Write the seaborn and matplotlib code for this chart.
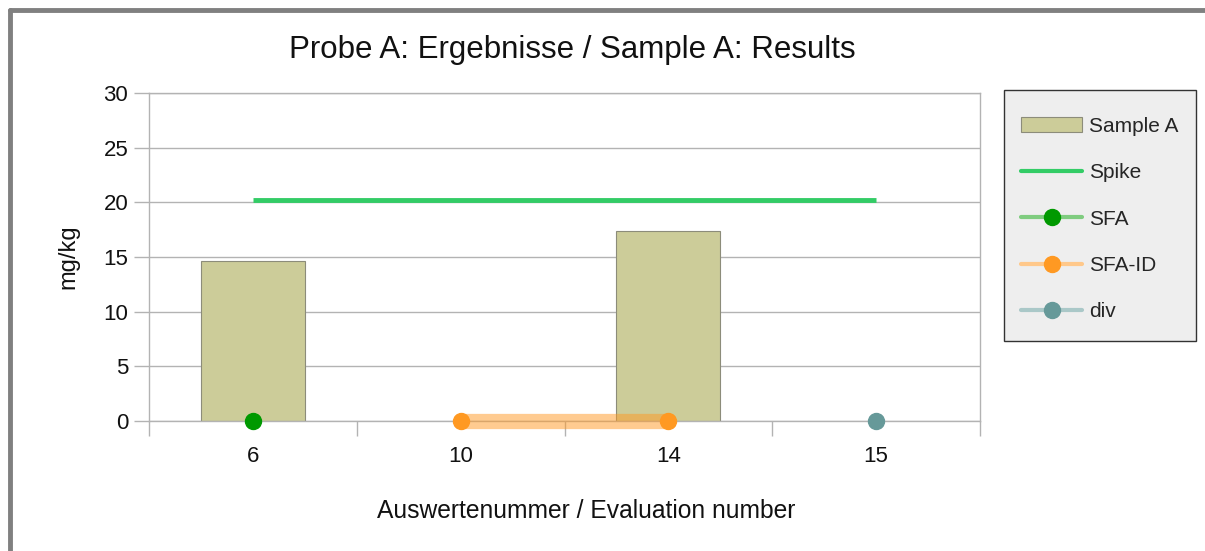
import matplotlib
matplotlib.use("Agg")
import matplotlib.pyplot as plt
from matplotlib.lines import Line2D
from matplotlib.patches import Patch, Rectangle
import seaborn as sns
import pandas as pd
import numpy as np

categories = ["6", "10", "14", "15"]
sample_a = [14.6, 0.0, 17.4, 0.0]
spike = [20.2, 20.2, 20.2, 20.2]
sfa = [0.0, None, None, None]
sfa_id = [None, 0.0, 0.0, None]
div = [None, None, None, 0.0]
yticks = [0, 5, 10, 15, 20, 25, 30]

sns.set_theme(style="white")
plt.rcParams['font.family'] = ['Liberation Sans', 'DejaVu Sans']

W, H = 1205, 551
fig = plt.figure(figsize=(12.05, 5.51), dpi=100)
ax = fig.add_axes([149/W, 130/H, (980-149)/W, (421-93)/H])

df = pd.DataFrame({"cat": categories, "val": sample_a})
sns.barplot(data=df, x="cat", y="val", order=categories, color="#cccc99",
            width=0.5, edgecolor="#8c8c7a", linewidth=0.8, saturation=1, ax=ax, zorder=2)
for p in ax.patches:
    if p.get_height() == 0:
        p.set_visible(False)

pos = np.arange(len(categories))
ax.plot(pos, spike, color="#33cc66", lw=3.5, zorder=3, solid_capstyle="butt")

def series(vals, line_color, marker_color, lw):
    xs = [p for p, v in zip(pos, vals) if v is not None]
    ys = [v for v in vals if v is not None]
    if len(xs) > 1:
        ax.plot(xs, ys, color=line_color, lw=lw, zorder=3, alpha=0.5,
                solid_capstyle="butt", clip_on=False)
    ax.plot(xs, ys, ls="none", marker="o", ms=11.5, color=marker_color, zorder=4, clip_on=False)

series(sfa, "#009900", "#009900", 11)
series(sfa_id, "#ff9922", "#ff9922", 11)
series(div, "#669999", "#669999", 11)

ax.set_xlim(-0.5, len(categories) - 0.5)
ax.set_ylim(0, 30)
ax.set_yticks(yticks)
ax.set_yticklabels([str(t) for t in yticks], fontsize=16, color="#111111")
ax.set_xticks(pos)
ax.set_xticklabels(categories, fontsize=16, color="#111111")
ax.set_xticks(np.arange(len(categories) + 1) - 0.5, minor=True)
ax.tick_params(axis="x", which="major", length=0, pad=18, bottom=True)
ax.tick_params(axis="x", which="minor", length=11, color="#b3b3b3", width=1, bottom=True)
ax.tick_params(axis="y", which="major", length=11, color="#b3b3b3", width=1, pad=4, left=True)
ax.yaxis.grid(True, color="#b3b3b3", lw=1)
ax.set_axisbelow(True)
for s in ax.spines.values():
    s.set_color("#b3b3b3")
    s.set_linewidth(1)

ax.set_xlabel("Auswertenummer / Evaluation number", fontsize=17.7, color="#111111")
ax.xaxis.set_label_coords((586-149)/831, -0.2378)
ax.set_ylabel("mg/kg", fontsize=17, labelpad=17, color="#111111")
fig.text(572/W, 1 - 50/H, "Probe A: Ergebnisse / Sample A: Results",
         fontsize=22.5, ha="center", va="center", color="#111111")

# legend box
fig.add_artist(Rectangle((1004/W, 1 - 341/H), (1196-1004)/W, (341-90)/H,
                         transform=fig.transFigure, facecolor="#eeeeee",
                         edgecolor="#333333", lw=1, zorder=1))

handles = [
    Patch(facecolor="#cccc99", edgecolor="#8c8c7a", linewidth=0.8),
    Line2D([], [], color="#33cc66", lw=3),
    Line2D([], [], color="#7fcc7f", lw=3, marker="o", ms=11.5, markerfacecolor="#009900", markeredgecolor="#009900"),
    Line2D([], [], color="#ffc88a", lw=3, marker="o", ms=11.5, markerfacecolor="#ff9922", markeredgecolor="#ff9922"),
    Line2D([], [], color="#aac8c8", lw=3, marker="o", ms=11.5, markerfacecolor="#669999", markeredgecolor="#669999"),
]
labels = ["Sample A", "Spike", "SFA", "SFA-ID", "div"]
leg = fig.legend(handles, labels, loc="upper left", bbox_to_anchor=(1021/W, 1 - 117/H),
                 fontsize=15, frameon=False, handlelength=2.93,
                 labelspacing=1.31, borderpad=0, handletextpad=0.34, borderaxespad=0)
leg.set_zorder(2)

# outer frame (top and left)
fig.add_artist(Line2D([10/W, 1.0], [1 - 10/H, 1 - 10/H], color="#808080", lw=3.5,
                      transform=fig.transFigure))
fig.add_artist(Line2D([10/W, 10/W], [0, 1 - 10/H], color="#808080", lw=3.5,
                      transform=fig.transFigure))

fig.savefig("out.png", dpi=100)
